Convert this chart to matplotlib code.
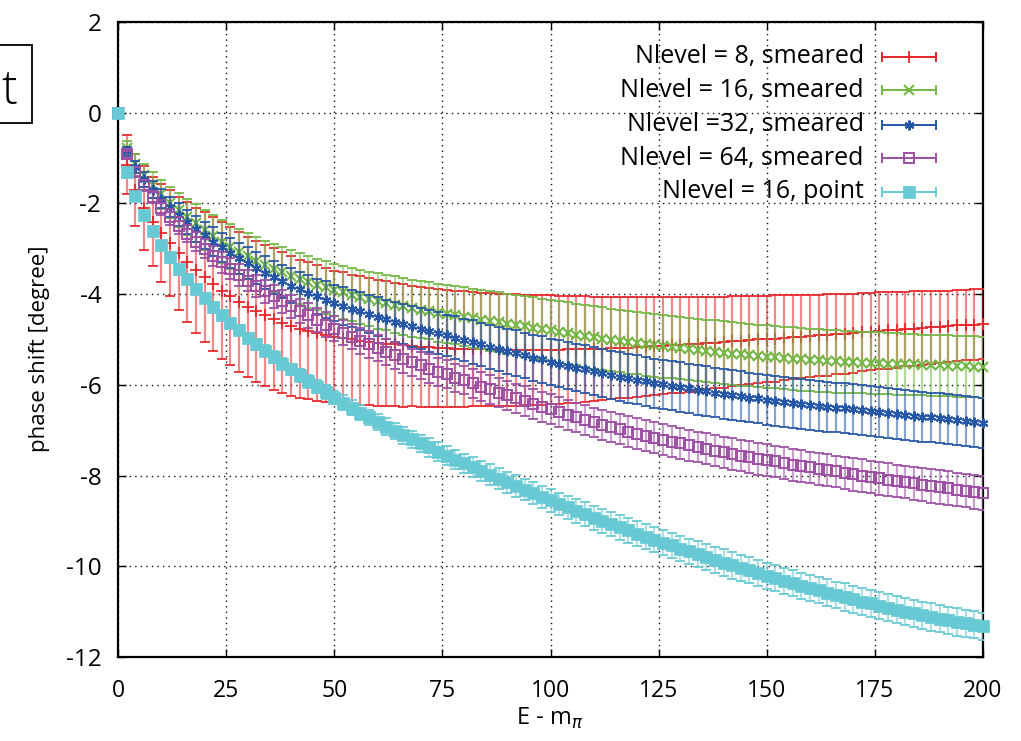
import numpy as np
import matplotlib
matplotlib.use("Agg")
import matplotlib.pyplot as plt
from matplotlib.patches import Rectangle

plt.rcParams['font.family'] = ['Open Sans', 'DejaVu Sans']
plt.rcParams['mathtext.fontset'] = 'dejavusans'
plt.rcParams['axes.unicode_minus'] = False

# E - m_pi grid (every second point of the original sampling)
energy = np.arange(0, 201, 2)

labels = ["Nlevel = 8, smeared", "Nlevel = 16, smeared", "Nlevel =32, smeared",
          "Nlevel = 64, smeared", "Nlevel = 16, point"]

n8_val = [0, -1.15, -1.70, -2.10, -2.40, -2.65, -2.88, -3.10, -3.29, -3.47,
          -3.63, -3.78, -3.92, -4.05, -4.17, -4.28, -4.38, -4.47, -4.55, -4.63,
          -4.70, -4.76, -4.81, -4.86, -4.90, -4.94, -4.97, -5.00, -5.03, -5.05,
          -5.07, -5.09, -5.11, -5.13, -5.14, -5.16, -5.17, -5.18, -5.19, -5.20,
          -5.21, -5.21, -5.22, -5.22, -5.23, -5.23, -5.23, -5.23, -5.23, -5.23,
          -5.23, -5.23, -5.22, -5.22, -5.21, -5.21, -5.20, -5.19, -5.18, -5.18,
          -5.17, -5.16, -5.15, -5.14, -5.13, -5.12, -5.11, -5.09, -5.08, -5.07,
          -5.06, -5.04, -5.03, -5.02, -5.00, -4.99, -4.98, -4.96, -4.95, -4.94,
          -4.92, -4.91, -4.90, -4.88, -4.87, -4.86, -4.84, -4.83, -4.81, -4.80,
          -4.79, -4.77, -4.76, -4.75, -4.73, -4.72, -4.71, -4.69, -4.68, -4.67,
          -4.65]
n8_err = [0, 0.65, 0.80, 0.92, 0.98, 1.08, 1.17, 1.25, 1.32, 1.38,
          1.43, 1.47, 1.50, 1.52, 1.54, 1.55, 1.56, 1.56, 1.56, 1.55,
          1.54, 1.52, 1.51, 1.50, 1.48, 1.46, 1.45, 1.43, 1.42, 1.40,
          1.39, 1.37, 1.36, 1.35, 1.33, 1.32, 1.31, 1.30, 1.29, 1.28,
          1.27, 1.26, 1.25, 1.25, 1.24, 1.23, 1.23, 1.22, 1.22, 1.21,
          1.20, 1.19, 1.18, 1.17, 1.16, 1.15, 1.14, 1.13, 1.12, 1.11,
          1.10, 1.09, 1.08, 1.07, 1.06, 1.05, 1.04, 1.03, 1.02, 1.01,
          1.00, 0.99, 0.98, 0.97, 0.96, 0.95, 0.95, 0.94, 0.93, 0.92,
          0.91, 0.90, 0.90, 0.89, 0.88, 0.87, 0.86, 0.85, 0.85, 0.84,
          0.83, 0.82, 0.82, 0.81, 0.80, 0.80, 0.79, 0.79, 0.78, 0.78,
          0.77]

n16_val = [0, -0.78, -1.12, -1.38, -1.60, -1.80, -1.98, -2.14, -2.30, -2.44,
           -2.58, -2.71, -2.84, -2.95, -3.06, -3.16, -3.26, -3.35, -3.44, -3.52,
           -3.59, -3.66, -3.73, -3.79, -3.85, -3.91, -3.96, -4.01, -4.06, -4.11,
           -4.15, -4.19, -4.23, -4.27, -4.31, -4.34, -4.37, -4.41, -4.44, -4.47,
           -4.50, -4.53, -4.56, -4.59, -4.62, -4.65, -4.68, -4.71, -4.74, -4.77,
           -4.80, -4.83, -4.86, -4.89, -4.92, -4.95, -4.98, -5.01, -5.03, -5.06,
           -5.08, -5.11, -5.13, -5.15, -5.17, -5.19, -5.21, -5.23, -5.25, -5.27,
           -5.29, -5.31, -5.33, -5.34, -5.36, -5.38, -5.39, -5.41, -5.42, -5.44,
           -5.45, -5.46, -5.47, -5.48, -5.49, -5.50, -5.51, -5.52, -5.52, -5.53,
           -5.54, -5.55, -5.55, -5.56, -5.57, -5.57, -5.58, -5.59, -5.59, -5.60,
           -5.61]
n16_err = [0, 0.15, 0.20, 0.25, 0.29, 0.32, 0.35, 0.37, 0.40, 0.42,
           0.44, 0.46, 0.48, 0.49, 0.50, 0.51, 0.52, 0.53, 0.54, 0.55,
           0.56, 0.56, 0.57, 0.57, 0.58, 0.58, 0.59, 0.59, 0.60, 0.60,
           0.61, 0.61, 0.62, 0.62, 0.63, 0.63, 0.63, 0.64, 0.64, 0.64,
           0.65, 0.65, 0.65, 0.66, 0.66, 0.66, 0.67, 0.67, 0.67, 0.67,
           0.68, 0.68, 0.68, 0.68, 0.69, 0.69, 0.69, 0.69, 0.69, 0.69,
           0.69, 0.69, 0.69, 0.69, 0.69, 0.69, 0.69, 0.69, 0.69, 0.69,
           0.69, 0.69, 0.69, 0.69, 0.69, 0.69, 0.69, 0.69, 0.69, 0.69,
           0.69, 0.69, 0.69, 0.69, 0.68, 0.68, 0.68, 0.68, 0.68, 0.68,
           0.68, 0.68, 0.68, 0.67, 0.67, 0.67, 0.67, 0.67, 0.67, 0.67,
           0.67]

n32_val = [0, -0.85, -1.20, -1.47, -1.70, -1.90, -2.08, -2.25, -2.41, -2.56,
           -2.70, -2.84, -2.97, -3.09, -3.21, -3.32, -3.43, -3.53, -3.63, -3.72,
           -3.81, -3.89, -3.97, -4.05, -4.12, -4.19, -4.26, -4.32, -4.38, -4.44,
           -4.50, -4.55, -4.61, -4.66, -4.71, -4.76, -4.81, -4.86, -4.91, -4.96,
           -5.01, -5.06, -5.11, -5.16, -5.21, -5.26, -5.30, -5.35, -5.40, -5.44,
           -5.49, -5.53, -5.58, -5.62, -5.66, -5.70, -5.74, -5.78, -5.82, -5.85,
           -5.89, -5.92, -5.96, -5.99, -6.02, -6.05, -6.08, -6.11, -6.14, -6.17,
           -6.20, -6.23, -6.25, -6.28, -6.30, -6.33, -6.35, -6.38, -6.40, -6.42,
           -6.44, -6.46, -6.48, -6.50, -6.52, -6.54, -6.56, -6.58, -6.60, -6.62,
           -6.64, -6.66, -6.68, -6.70, -6.72, -6.74, -6.76, -6.78, -6.80, -6.82,
           -6.84]
n32_err = [0, 0.10, 0.13, 0.16, 0.19, 0.21, 0.23, 0.25, 0.27, 0.28,
           0.30, 0.31, 0.32, 0.33, 0.34, 0.35, 0.35, 0.36, 0.37, 0.37,
           0.38, 0.38, 0.39, 0.39, 0.40, 0.40, 0.41, 0.41, 0.42, 0.42,
           0.43, 0.43, 0.44, 0.44, 0.45, 0.45, 0.46, 0.46, 0.46, 0.47,
           0.47, 0.48, 0.48, 0.49, 0.49, 0.50, 0.50, 0.50, 0.51, 0.51,
           0.51, 0.52, 0.52, 0.52, 0.53, 0.53, 0.53, 0.53, 0.54, 0.54,
           0.54, 0.54, 0.54, 0.54, 0.54, 0.55, 0.55, 0.55, 0.55, 0.55,
           0.55, 0.55, 0.55, 0.55, 0.55, 0.55, 0.55, 0.55, 0.55, 0.55,
           0.55, 0.55, 0.55, 0.55, 0.55, 0.55, 0.55, 0.55, 0.55, 0.55,
           0.55, 0.55, 0.55, 0.55, 0.55, 0.55, 0.55, 0.55, 0.55, 0.55,
           0.55]

n64_val = [0, -0.92, -1.30, -1.60, -1.86, -2.09, -2.30, -2.49, -2.67, -2.84,
           -3.00, -3.15, -3.30, -3.44, -3.57, -3.70, -3.82, -3.94, -4.05, -4.16,
           -4.27, -4.37, -4.47, -4.57, -4.67, -4.76, -4.85, -4.94, -5.03, -5.11,
           -5.19, -5.27, -5.35, -5.43, -5.50, -5.57, -5.64, -5.71, -5.77, -5.84,
           -5.90, -5.97, -6.04, -6.10, -6.17, -6.23, -6.30, -6.36, -6.42, -6.48,
           -6.54, -6.60, -6.66, -6.72, -6.77, -6.83, -6.88, -6.93, -6.98, -7.03,
           -7.08, -7.12, -7.17, -7.21, -7.25, -7.29, -7.33, -7.37, -7.41, -7.45,
           -7.49, -7.52, -7.56, -7.59, -7.63, -7.66, -7.69, -7.73, -7.76, -7.79,
           -7.82, -7.85, -7.88, -7.91, -7.94, -7.97, -8.00, -8.03, -8.06, -8.09,
           -8.12, -8.14, -8.17, -8.20, -8.23, -8.25, -8.28, -8.31, -8.33, -8.36,
           -8.39]
n64_err = [0, 0.08, 0.10, 0.12, 0.14, 0.16, 0.17, 0.18, 0.19, 0.20,
           0.21, 0.22, 0.23, 0.23, 0.24, 0.24, 0.25, 0.25, 0.26, 0.26,
           0.26, 0.27, 0.27, 0.27, 0.28, 0.28, 0.28, 0.28, 0.29, 0.29,
           0.29, 0.29, 0.30, 0.30, 0.30, 0.30, 0.31, 0.31, 0.31, 0.31,
           0.31, 0.32, 0.32, 0.32, 0.32, 0.32, 0.32, 0.33, 0.33, 0.33,
           0.33, 0.33, 0.33, 0.33, 0.33, 0.33, 0.33, 0.33, 0.33, 0.34,
           0.34, 0.34, 0.34, 0.34, 0.34, 0.34, 0.34, 0.34, 0.34, 0.34,
           0.34, 0.35, 0.35, 0.35, 0.35, 0.35, 0.35, 0.35, 0.35, 0.35,
           0.35, 0.35, 0.35, 0.35, 0.36, 0.36, 0.36, 0.36, 0.36, 0.36,
           0.36, 0.36, 0.36, 0.36, 0.37, 0.37, 0.37, 0.37, 0.37, 0.37,
           0.37]

pt16_val = [0, -1.30, -1.84, -2.25, -2.60, -2.91, -3.18, -3.44, -3.67, -3.89,
            -4.09, -4.28, -4.46, -4.63, -4.80, -4.96, -5.11, -5.25, -5.39, -5.53,
            -5.66, -5.79, -5.92, -6.04, -6.16, -6.28, -6.39, -6.50, -6.61, -6.72,
            -6.82, -6.92, -7.02, -7.11, -7.20, -7.29, -7.38, -7.47, -7.56, -7.65,
            -7.73, -7.81, -7.90, -7.98, -8.07, -8.15, -8.23, -8.31, -8.39, -8.47,
            -8.55, -8.63, -8.70, -8.78, -8.85, -8.93, -9.00, -9.07, -9.14, -9.21,
            -9.28, -9.35, -9.41, -9.48, -9.54, -9.61, -9.67, -9.73, -9.80, -9.86,
            -9.92, -9.98, -10.04, -10.09, -10.15, -10.21, -10.26, -10.32, -10.37, -10.43,
            -10.48, -10.53, -10.58, -10.63, -10.68, -10.73, -10.78, -10.82, -10.87, -10.91,
            -10.96, -11.00, -11.04, -11.08, -11.12, -11.16, -11.19, -11.23, -11.26, -11.29,
            -11.32]
pt16_err = [0, 0.03, 0.04, 0.05, 0.05, 0.06, 0.07, 0.07, 0.08, 0.08,
            0.09, 0.09, 0.10, 0.10, 0.11, 0.11, 0.12, 0.12, 0.13, 0.13,
            0.13, 0.14, 0.14, 0.15, 0.15, 0.15, 0.16, 0.16, 0.17, 0.17,
            0.17, 0.18, 0.18, 0.19, 0.19, 0.19, 0.20, 0.20, 0.21, 0.21,
            0.21, 0.22, 0.22, 0.23, 0.23, 0.23, 0.24, 0.24, 0.24, 0.25,
            0.25, 0.25, 0.26, 0.26, 0.26, 0.26, 0.27, 0.27, 0.27, 0.27,
            0.27, 0.28, 0.28, 0.28, 0.28, 0.28, 0.28, 0.28, 0.29, 0.29,
            0.29, 0.29, 0.29, 0.29, 0.29, 0.29, 0.29, 0.29, 0.29, 0.29,
            0.29, 0.29, 0.29, 0.29, 0.30, 0.30, 0.30, 0.30, 0.30, 0.30,
            0.30, 0.30, 0.30, 0.30, 0.30, 0.30, 0.30, 0.30, 0.30, 0.30,
            0.30]

colors = ['#e8262b', '#72b843', '#2656a6', '#9c4fa3', '#67c9d3']
# marker, size, face colour, edge width
styles = [('+', 8, None, 1.3),
          ('x', 6.5, None, 1.5),
          ((6, 2, 0), 7, None, 1.5),
          ('s', 6.5, 'none', 1.4),
          ('s', 8, None, 0)]

fig = plt.figure(figsize=(10.21, 7.41), dpi=100)
ax = fig.add_axes([0.1156, 0.1134, 0.8472, 0.8569])

series = [(n8_val, n8_err), (n16_val, n16_err), (n32_val, n32_err),
          (n64_val, n64_err), (pt16_val, pt16_err)]

for i, (vals, errs) in enumerate(series):
    mk, ms, mfc, mew = styles[i]
    eb = ax.errorbar(energy, vals, yerr=errs, fmt='none', ecolor=colors[i],
                     elinewidth=1.6, capsize=3.3, capthick=1.4, zorder=3 + i)
    eb[2][0].set_alpha(0.55)
    for cap in eb[1]:
        cap.set_alpha(0.9)
    ax.plot(energy, vals, ls='none', marker=mk, ms=ms, color=colors[i],
            mfc=colors[i] if mfc is None else mfc, mew=mew if mew else 0.5,
            clip_on=False, zorder=3 + i)

ax.set_xlim(0, 200)
ax.set_ylim(-12, 2)
ax.set_xticks(np.arange(0, 201, 25))
ax.set_yticks(np.arange(-12, 3, 2))
ax.grid(True, color='#111111', linestyle=(0, (1, 3)), linewidth=1.0)
ax.tick_params(direction='in', top=True, right=True, length=6, width=1.0,
               labelsize=16.5)
ax.tick_params(axis='x', pad=16)
ax.tick_params(axis='y', labelsize=17.5, pad=12)
for s in ax.spines.values():
    s.set_linewidth(1.6)

fig.text(40 / 1021, 1 - 349 / 741, 'phase shift [degree]', rotation=90,
         ha='center', va='center', fontsize=16)
fig.text(550 / 1021, 1 - 718 / 741, r'E - m$_{\pi}$', ha='center',
         va='center', fontsize=17)

# gnuplot style key: right aligned text, horizontal error bar sample
key_y = [0.9454, 0.8929, 0.8378, 0.7853, 0.7328]
for i, lab in enumerate(labels):
    y = key_y[i]
    mk, ms, mfc, mew = styles[i]
    ax.text(0.862, y, lab, transform=ax.transAxes, ha='right', va='center',
            fontsize=18, zorder=20)
    ax.plot([0.883, 0.946], [y, y], transform=ax.transAxes, color=colors[i],
            lw=1.4, zorder=20)
    for xc in (0.883, 0.946):
        ax.plot([xc, xc], [y - 0.0065, y + 0.0065], transform=ax.transAxes,
                color=colors[i], lw=1.4, zorder=20)
    ax.plot([0.9145], [y], transform=ax.transAxes, ls='none', marker=mk,
            ms=ms, color=colors[i], mfc=colors[i] if mfc is None else mfc,
            mew=mew if mew else 0.5, zorder=21)

# cropped box at the left edge
fig.patches.append(Rectangle((-0.02, 1 - 123 / 741), 0.02 + 31.7 / 1021, 78 / 741,
                             transform=fig.transFigure, fill=False,
                             edgecolor='black', linewidth=1.3))
fig.text(1 / 1021, 1 - 104 / 741, 't', ha='left', va='baseline',
         fontsize=34, fontweight='light')

fig.savefig('out.png', dpi=100)
